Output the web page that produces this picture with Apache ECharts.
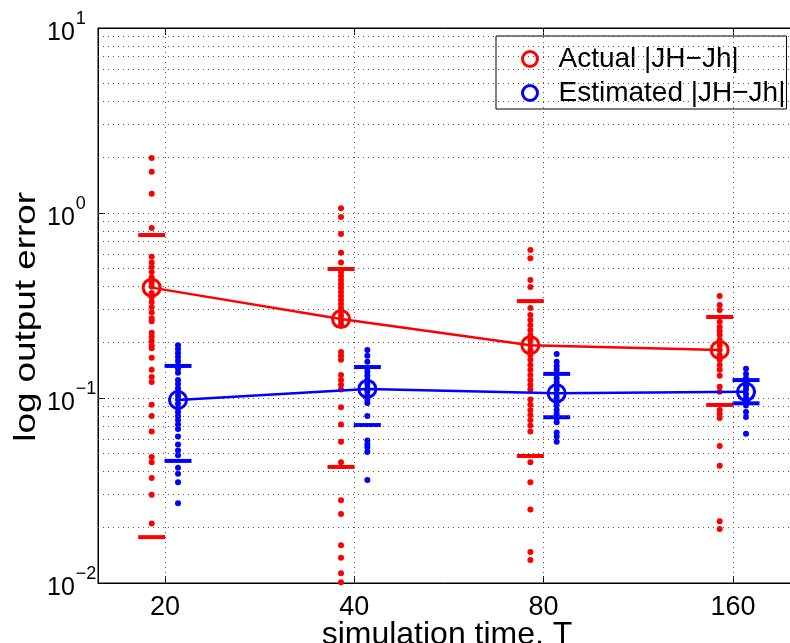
<!DOCTYPE html>
<html>
<head>
<meta charset="utf-8">
<script src="https://cdn.jsdelivr.net/npm/echarts@6/dist/echarts.min.js"></script>
<style>
html,body{margin:0;padding:0;background:#fff;}
#chart{width:790px;height:643px;}
</style>
</head>
<body>
<div id="chart"></div>
<script>
// ---- data ----
const T_LABELS = ['20', '40', '80', '160'];

const red20  = [1.98, 1.67, 1.27, 0.83, 0.58, 0.54, 0.51, 0.48, 0.45, 0.42, 0.40, 0.37, 0.35, 0.33, 0.31, 0.29, 0.27, 0.26, 0.225, 0.214, 0.203, 0.193, 0.186, 0.165, 0.142, 0.130, 0.122, 0.092, 0.080, 0.066, 0.048, 0.045, 0.037, 0.030, 0.021];
const red40  = [1.06, 0.95, 0.77, 0.61, 0.54, 0.48, 0.457, 0.434, 0.413, 0.393, 0.374, 0.356, 0.339, 0.322, 0.307, 0.292, 0.278, 0.264, 0.251, 0.177, 0.169, 0.161, 0.133, 0.125, 0.118, 0.111, 0.089, 0.072, 0.058, 0.045, 0.028, 0.0236, 0.016, 0.0137, 0.0113, 0.0101];
const red80  = [0.63, 0.57, 0.434, 0.398, 0.307, 0.281, 0.264, 0.248, 0.233, 0.219, 0.206, 0.193, 0.182, 0.171, 0.161, 0.151, 0.142, 0.133, 0.125, 0.118, 0.111, 0.098, 0.092, 0.086, 0.081, 0.076, 0.071, 0.066, 0.045, 0.035, 0.025, 0.0147, 0.0133];
const red160 = [0.356, 0.318, 0.299, 0.258, 0.242, 0.230, 0.219, 0.206, 0.193, 0.182, 0.171, 0.161, 0.151, 0.142, 0.132, 0.115, 0.108, 0.086, 0.082, 0.078, 0.055, 0.043, 0.0216, 0.0196];

const blue20  = [0.193, 0.184, 0.175, 0.167, 0.159, 0.151, 0.144, 0.137, 0.125, 0.119, 0.113, 0.108, 0.103, 0.098, 0.093, 0.088, 0.084, 0.080, 0.076, 0.072, 0.068, 0.062, 0.056, 0.052, 0.049, 0.042, 0.039, 0.035, 0.027];
const blue40  = [0.182, 0.169, 0.157, 0.145, 0.138, 0.132, 0.125, 0.119, 0.113, 0.108, 0.103, 0.098, 0.094, 0.080, 0.059, 0.056, 0.054, 0.051, 0.036];
const blue80  = [0.173, 0.157, 0.149, 0.142, 0.135, 0.128, 0.122, 0.116, 0.111, 0.105, 0.100, 0.095, 0.091, 0.086, 0.082, 0.078, 0.074, 0.065, 0.062, 0.058];
const blue160 = [0.144, 0.135, 0.128, 0.122, 0.116, 0.111, 0.105, 0.100, 0.095, 0.091, 0.084, 0.079, 0.064];

const redMean  = [0.395, 0.267, 0.193, 0.182];
const blueMean = [0.0975, 0.112, 0.106, 0.108];
const redUpper  = [0.76, 0.498, 0.334, 0.274];
const redLower  = [0.0177, 0.0424, 0.0486, 0.0917];
const blueUpper = [0.149, 0.147, 0.135, 0.125];
const blueLower = [0.0457, 0.0714, 0.0787, 0.0936];

const Y_TICKS = [0.01, 0.1, 1, 10];
const Y_TICK_EXP = ['\u22122', '\u22121', '0', '1'];

// ---- build ----
const RED = '#ff0000', BLUE = '#0000ff';
const RED_OFF = -0.07, BLUE_OFF = 0.069;
const FONT = 'Liberation Sans, Arial, Helvetica, sans-serif';

const redPts = [red20, red40, red80, red160];
const bluePts = [blue20, blue40, blue80, blue160];

function pts(groups, off) {
  const out = [];
  groups.forEach((g, i) => g.forEach(v => out.push([i + off, v])));
  return out;
}
function pair(arr, off) { return arr.map((v, i) => [i + off, v]); }

const minorGrid = [];
[0.01, 0.1, 1].forEach(d => { for (let m = 1; m <= 9; m++) { const v = +(d * m).toPrecision(3); if (v > 0.01 && v < 10) minorGrid.push(v); } });

const chart = echarts.init(document.getElementById('chart'), null, {renderer: 'canvas'});

const xCommon = {
  type: 'value', min: -0.3536, max: 3.333,
  splitLine: {show: false},
  axisLine: {show: true, onZero: false, lineStyle: {color: '#000', width: 1}},
};

chart.setOption({
  animation: false,
  backgroundColor: '#fff',
  textStyle: {fontFamily: FONT},
  grid: {left: 98, top: 28, right: -6, bottom: 60, show: true, borderColor: '#000', borderWidth: 1,
         backgroundColor: '#fff', containLabel: false, outerBoundsMode: 'none'},
  legend: {
    orient: 'vertical', left: 496, top: 36,
    padding: [8, 1, 1, 25], itemGap: 4,
    itemWidth: 15, itemHeight: 15,
    backgroundColor: '#fff', borderColor: '#000', borderWidth: 1, borderRadius: 0,
    textStyle: {fontSize: 28, color: '#000', fontFamily: FONT, lineHeight: 30, padding: [0, 0, 0, 16]},
    data: [
      {name: 'Actual |JH\u2212Jh|', icon: 'circle', itemStyle: {color: '#fff', borderColor: RED, borderWidth: 3}},
      {name: 'Estimated |JH\u2212Jh|', icon: 'circle', itemStyle: {color: '#fff', borderColor: BLUE, borderWidth: 3}}
    ]
  },
  graphic: [{
    type: 'text', left: 12, top: 192, silent: true,
    style: {text: 'log output error', fontSize: 29, fontFamily: FONT, fill: '#000'},
    rotation: Math.PI / 2, scaleX: 1.27, scaleY: 1
  }],
  xAxis: [
    Object.assign({}, xCommon, {
      position: 'bottom',
      name: 'simulation time, T', nameLocation: 'middle', nameGap: 36, nameMoveOverlap: false,
      nameTextStyle: {fontSize: 32, color: '#000', fontFamily: FONT},
      axisTick: {show: true, inside: true, length: 7, customValues: [0, 1, 2, 3], lineStyle: {color: '#000'}},
      axisLabel: {show: true, margin: 11, fontSize: 27, color: '#000', fontFamily: FONT, customValues: [0, 1, 2, 3],
        formatter: v => T_LABELS[Math.round(v)]}
    }),
    Object.assign({}, xCommon, {
      position: 'top',
      axisTick: {show: true, inside: true, length: 7, customValues: [0, 1, 2, 3], lineStyle: {color: '#000'}},
      axisLabel: {show: false}
    })
  ],
  yAxis: {
    type: 'log', logBase: 10, min: 0.01, max: 10,
    splitLine: {show: false},
    axisLine: {show: true, onZero: false, lineStyle: {color: '#000'}},
    axisTick: {show: true, inside: true, length: 7, lineStyle: {color: '#000'}},
    axisLabel: {
      margin: 51, align: 'left', color: '#000',
      formatter: v => {
        const i = Y_TICKS.findIndex(t => Math.abs(Math.log10(t) - Math.log10(v)) < 1e-6);
        return i < 0 ? '' : '{b|10}{e|' + Y_TICK_EXP[i] + '}';
      },
      rich: {
        b: {fontSize: 25, fontFamily: FONT, color: '#000', padding: [10, 0, 0, 0]},
        e: {fontSize: 18, fontFamily: FONT, color: '#000', padding: [0, 0, 18, 1]}
      }
    }
  },
  series: [
    {
      type: 'scatter', name: 'grid', data: [], silent: true, z: 1,
      markLine: {
        silent: true, symbol: 'none', animation: false, label: {show: false},
        lineStyle: {type: [1, 4], color: '#555', width: 1},
        data: minorGrid.map(v => ({yAxis: v})).concat([0, 1, 2, 3].map(v => ({xAxis: v})))
      }
    },
    {type: 'scatter', name: 'redDots', data: pts(redPts, RED_OFF), symbol: 'circle', symbolSize: 6, itemStyle: {color: RED, opacity: 1}, z: 3},
    {type: 'scatter', name: 'blueDots', data: pts(bluePts, BLUE_OFF), symbol: 'circle', symbolSize: 6, itemStyle: {color: BLUE, opacity: 1}, z: 3},
    {type: 'scatter', name: 'redBars', data: pair(redUpper, RED_OFF).concat(pair(redLower, RED_OFF)), symbol: 'rect', symbolSize: [27, 4], itemStyle: {color: RED, opacity: 1}, z: 4},
    {type: 'scatter', name: 'blueBars', data: pair(blueUpper, BLUE_OFF).concat(pair(blueLower, BLUE_OFF)), symbol: 'rect', symbolSize: [27, 4], itemStyle: {color: BLUE, opacity: 1}, z: 4},
    {
      type: 'line', name: 'Actual |JH\u2212Jh|', data: pair(redMean, RED_OFF), z: 5,
      symbol: 'circle', symbolSize: 17, showAllSymbol: true,
      lineStyle: {color: RED, width: 2.5},
      itemStyle: {color: 'rgba(0,0,0,0)', borderColor: RED, borderWidth: 3}
    },
    {
      type: 'line', name: 'Estimated |JH\u2212Jh|', data: pair(blueMean, BLUE_OFF), z: 5,
      symbol: 'circle', symbolSize: 17, showAllSymbol: true,
      lineStyle: {color: BLUE, width: 2.5},
      itemStyle: {color: 'rgba(0,0,0,0)', borderColor: BLUE, borderWidth: 3}
    }
  ]
});
</script>
</body>
</html>
